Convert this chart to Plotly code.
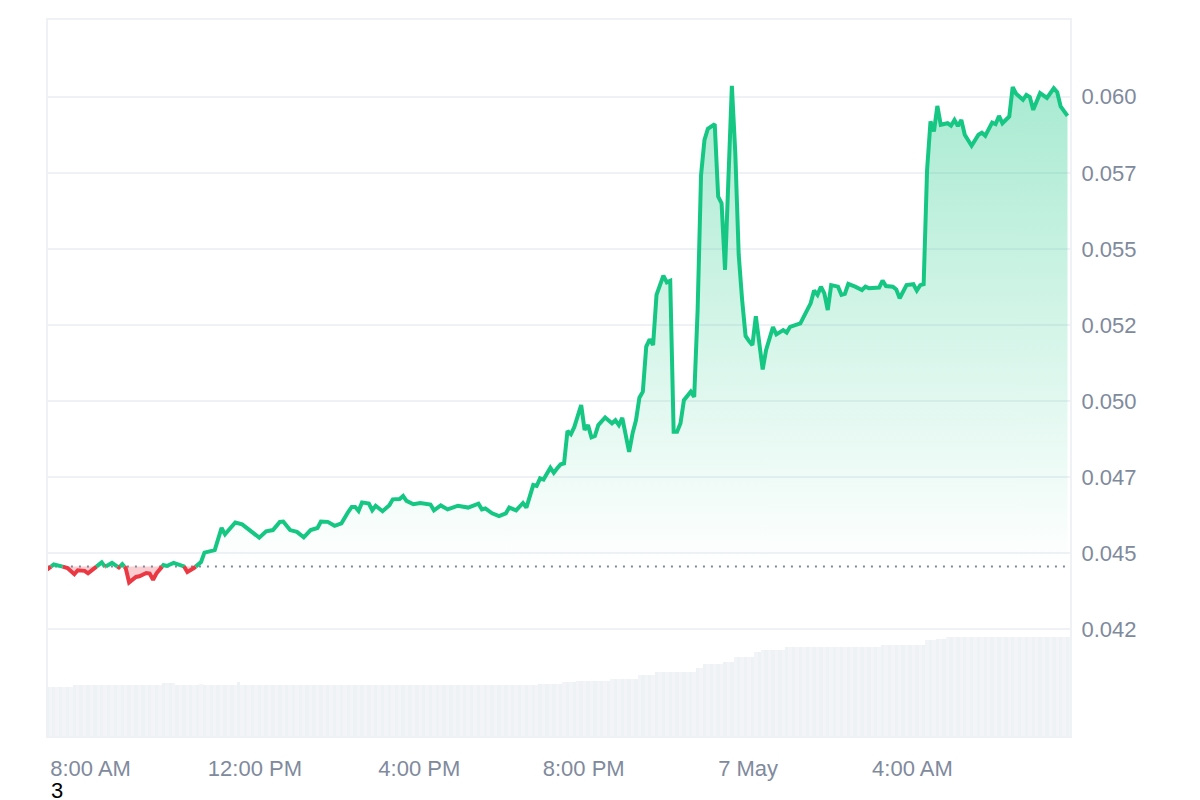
import pandas as pd
import plotly.graph_objects as go

# price: sample number (5 min steps from the first point) and price at that sample
start_time = "2024-05-06 06:56:20"
sample_idx = [
    0, 2, 5, 6, 8, 9, 11, 12, 14, 16, 17, 19, 21, 22, 23, 24, 26, 27, 29, 30,
    31, 32, 34, 35, 37, 40, 41, 43, 45, 46, 49, 51, 52, 55, 57, 62, 64, 66, 68, 69,
    71, 73, 75, 77, 79, 80, 82, 84, 86, 88, 89, 90, 91, 92, 94, 95, 96, 98, 100, 101,
    103, 104, 105, 107, 109, 112, 113, 115, 117, 120, 123, 126, 127, 128, 130, 132, 134, 135, 137, 139,
    140, 142, 143, 144, 145, 147, 148, 149, 150, 151, 152, 153, 154, 156, 157, 158, 159, 160, 161, 163,
    165, 166, 167, 168, 170, 171, 172, 173, 174, 175, 176, 177, 178, 180, 181, 182, 183, 184, 185, 186,
    188, 189, 190, 191, 192, 193, 194, 195, 196, 197, 198, 200, 201, 202, 203, 204, 205, 206, 207, 209,
    210, 212, 213, 215, 216, 217, 220, 223, 224, 225, 226, 227, 228, 229, 231, 232, 233, 234, 236, 238,
    239, 240, 243, 244, 245, 247, 248, 249, 251, 253, 254, 255, 256, 257, 258, 259, 260, 261, 263, 264,
    265, 266, 267, 268, 270, 272, 273, 274, 276, 277, 278, 279, 281, 282, 283, 285, 286, 287, 288, 290,
    292, 294, 295, 296, 298,
]
price = [
    0.04446, 0.04463, 0.04455, 0.04451, 0.04431, 0.04444, 0.04442, 0.04434, 0.04452, 0.04470,
    0.04455, 0.04468, 0.04453, 0.04464, 0.04451, 0.04404, 0.04422, 0.04424, 0.04435, 0.04433,
    0.04413, 0.04434, 0.04461, 0.04458, 0.04468, 0.04457, 0.04438, 0.04452, 0.04471, 0.04502,
    0.04510, 0.04583, 0.04562, 0.04601, 0.04595, 0.04551, 0.04572, 0.04576, 0.04603, 0.04604,
    0.04576, 0.04570, 0.04552, 0.04576, 0.04583, 0.04604, 0.04603, 0.04590, 0.04598, 0.04636,
    0.04652, 0.04652, 0.04639, 0.04667, 0.04663, 0.04641, 0.04656, 0.04638, 0.04658, 0.04677,
    0.04678, 0.04688, 0.04672, 0.04661, 0.04665, 0.04660, 0.04641, 0.04657, 0.04644, 0.04656,
    0.04650, 0.04663, 0.04644, 0.04647, 0.04631, 0.04622, 0.04631, 0.04650, 0.04641, 0.04665,
    0.04650, 0.04724, 0.04721, 0.04746, 0.04742, 0.04781, 0.04764, 0.04779, 0.04792, 0.04795,
    0.04902, 0.04891, 0.04915, 0.04987, 0.04905, 0.04921, 0.04881, 0.04885, 0.04921, 0.04946,
    0.04927, 0.04937, 0.04921, 0.04945, 0.04833, 0.04894, 0.04937, 0.05011, 0.05031, 0.05179,
    0.05203, 0.05184, 0.05349, 0.05412, 0.05390, 0.05395, 0.04899, 0.04899, 0.04927, 0.05003,
    0.05031, 0.05014, 0.05299, 0.05743, 0.05858, 0.05895, 0.05904, 0.05910, 0.05672, 0.05650,
    0.05431, 0.06036, 0.05816, 0.05480, 0.05332, 0.05214, 0.05197, 0.05184, 0.05279, 0.05104,
    0.05168, 0.05243, 0.05219, 0.05233, 0.05225, 0.05244, 0.05255, 0.05321, 0.05363, 0.05349,
    0.05376, 0.05354, 0.05299, 0.05381, 0.05376, 0.05349, 0.05352, 0.05385, 0.05376, 0.05365,
    0.05376, 0.05371, 0.05373, 0.05396, 0.05378, 0.05376, 0.05367, 0.05338, 0.05381, 0.05384,
    0.05363, 0.05381, 0.05384, 0.05760, 0.05919, 0.05886, 0.05970, 0.05908, 0.05913, 0.05905,
    0.05924, 0.05904, 0.05924, 0.05875, 0.05839, 0.05875, 0.05882, 0.05872, 0.05915, 0.05910,
    0.05937, 0.05913, 0.05935, 0.06032, 0.06010, 0.05990, 0.06006, 0.05999, 0.05957, 0.06012,
    0.05996, 0.06028, 0.06015, 0.05968, 0.05937,
]
base_price = 0.04456

# volume bars, one per sample, arbitrary units
volume = [
    .51, .51, .51, .51, .51, .51, .51, .51, .53, .53,
    .53, .53, .53, .53, .53, .53, .53, .53, .53, .53,
    .53, .53, .53, .53, .53, .53, .53, .53, .53, .53,
    .53, .53, .53, .53, .555, .555, .555, .555, .53, .53,
    .53, .53, .53, .53, .53, .54, .53, .53, .53, .53,
    .53, .53, .53, .53, .53, .53, .56, .53, .53, .53,
    .53, .53, .53, .53, .53, .53, .53, .53, .53, .53,
    .53, .53, .53, .53, .53, .53, .53, .53, .53, .53,
    .53, .53, .53, .53, .53, .53, .53, .53, .53, .53,
    .53, .53, .53, .53, .53, .53, .53, .53, .53, .53,
    .53, .53, .53, .53, .53, .53, .53, .53, .53, .53,
    .53, .53, .53, .53, .53, .53, .53, .53, .53, .53,
    .53, .53, .53, .53, .53, .53, .53, .53, .53, .53,
    .53, .53, .53, .53, .53, .53, .53, .53, .53, .53,
    .53, .53, .53, .53, .54, .54, .54, .54, .54, .54,
    .54, .557, .557, .557, .557, .573, .573, .573, .573, .573,
    .573, .573, .573, .573, .573, .59, .59, .59, .59, .59,
    .59, .59, .59, .63, .63, .63, .63, .63, .657, .657,
    .657, .657, .657, .657, .657, .657, .657, .657, .657, .657,
    .70, .70, .747, .747, .747, .747, .747, .747, .763, .763,
    .763, .813, .813, .813, .813, .813, .813, .863, .863, .88,
    .88, .88, .88, .88, .88, .88, .91, .91, .91, .91,
    .91, .91, .91, .91, .91, .91, .91, .91, .91, .91,
    .91, .91, .91, .91, .91, .91, .91, .91, .91, .91,
    .91, .91, .91, .91, .937, .937, .937, .937, .937, .937,
    .937, .937, .937, .937, .937, .937, .937, .98, .98, .98,
    .997, .997, .997, 1.013, 1.013, 1.013, 1.013, 1.013, 1.013, 1.013,
    1.013, 1.013, 1.013, 1.013, 1.013, 1.013, 1.013, 1.013, 1.013, 1.013,
    1.013, 1.013, 1.013, 1.013, 1.013, 1.013, 1.013, 1.013, 1.013, 1.013,
    1.013, 1.013, 1.013, 1.013, 1.013, 1.013, 1.013, 1.013, 1.013, 1.013,
]

x_ticks = ["2024-05-06 08:00", "2024-05-06 12:00", "2024-05-06 16:00",
           "2024-05-06 20:00", "2024-05-07 00:00", "2024-05-07 04:00"]
x_labels = ["8:00 AM", "12:00 PM", "4:00 PM", "8:00 PM", "7 May", "4:00 AM"]
y_ticks = [0.0425, 0.045, 0.0475, 0.05, 0.0525, 0.055, 0.0575, 0.06]
y_labels = ["0.042", "0.045", "0.047", "0.050", "0.052", "0.055", "0.057", "0.060"]

GREEN = "#16c784"
RED = "#ea3943"
GRID = "#eff2f5"
BAR_ALT = "#f2f4f7"
TICK = "#808a9d"

# add a point wherever the line crosses the base price, so colours switch exactly there
minutes, prices = [], []
for k, (i, p) in enumerate(zip(sample_idx, price)):
    m = i * 5
    if k > 0 and (prices[-1] - base_price) * (p - base_price) < 0:
        frac = (base_price - prices[-1]) / (p - prices[-1])
        minutes.append(minutes[-1] + frac * (m - minutes[-1]))
        prices.append(base_price)
    minutes.append(m)
    prices.append(p)

t0 = pd.Timestamp(start_time)
times = [t0 + pd.Timedelta(minutes=m) for m in minutes]
bar_times = [t0 + pd.Timedelta(minutes=5 * i) for i in range(len(volume))]

above = [max(p, base_price) for p in prices]
below = [min(p, base_price) for p in prices]
line_up = [p if p >= base_price else None for p in prices]
line_down = [p if p <= base_price else None for p in prices]
base_line = [base_price] * len(times)

fig = go.Figure()

# bars touch each other; every other one a touch lighter for the faint stripes
bar_colors = [BAR_ALT if i % 2 else GRID for i in range(len(volume))]
fig.add_trace(go.Bar(x=bar_times, y=volume, yaxis="y2", width=300000,
                     marker=dict(color=bar_colors, line=dict(width=0))))

# green area down to the base price
fig.add_trace(go.Scatter(x=times, y=base_line, mode="lines", line=dict(width=0), hoverinfo="skip"))
fig.add_trace(go.Scatter(x=times, y=above, mode="lines", line=dict(width=0), fill="tonexty",
                         fillgradient=dict(type="vertical",
                                           colorscale=[[0, "rgba(22,199,132,0)"], [1, "rgba(22,199,132,0.37)"]])))
# red area up to the base price
fig.add_trace(go.Scatter(x=times, y=base_line, mode="lines", line=dict(width=0), hoverinfo="skip"))
fig.add_trace(go.Scatter(x=times, y=below, mode="lines", line=dict(width=0), fill="tonexty",
                         fillcolor="rgba(234,57,67,0.25)"))

fig.add_trace(go.Scatter(x=times, y=base_line, mode="lines",
                         line=dict(color=TICK, width=2, dash="2px,6px")))
fig.add_trace(go.Scatter(x=times, y=line_up, mode="lines", line=dict(color=GREEN, width=4)))
fig.add_trace(go.Scatter(x=times, y=line_down, mode="lines", line=dict(color=RED, width=4)))

fig.add_annotation(text="3", xref="paper", yref="paper", x=0.001, y=-0.0766,
                   xanchor="left", yanchor="middle", showarrow=False,
                   font=dict(family="Liberation Sans", size=22, color="black"))

fig.update_layout(
    width=1192, height=792,
    margin=dict(l=40, r=130, t=10, b=64),
    paper_bgcolor="white", plot_bgcolor="white",
    showlegend=False,
    bargap=0,
    font=dict(family="Liberation Sans", size=22, color=TICK),
    xaxis=dict(type="date", range=["2024-05-06 06:57:54", "2024-05-07 07:50:00"],
               tickvals=x_ticks, ticktext=x_labels, tickangle=0,
               showgrid=False, zeroline=False, showline=True, mirror=True,
               linecolor=GRID, linewidth=2, ticks="outside", ticklen=12, tickcolor="rgba(0,0,0,0)"),
    yaxis=dict(side="right", range=[0.038993, 0.062523],
               tickvals=y_ticks, ticktext=y_labels,
               showgrid=True, gridcolor=GRID, gridwidth=2, zeroline=False,
               showline=True, mirror=True, linecolor=GRID, linewidth=2,
               ticks="outside", ticklen=5, tickcolor="rgba(0,0,0,0)"),
    yaxis2=dict(overlaying="y", range=[0.02, 7.2], visible=False),
)

fig.write_html("out.html")
